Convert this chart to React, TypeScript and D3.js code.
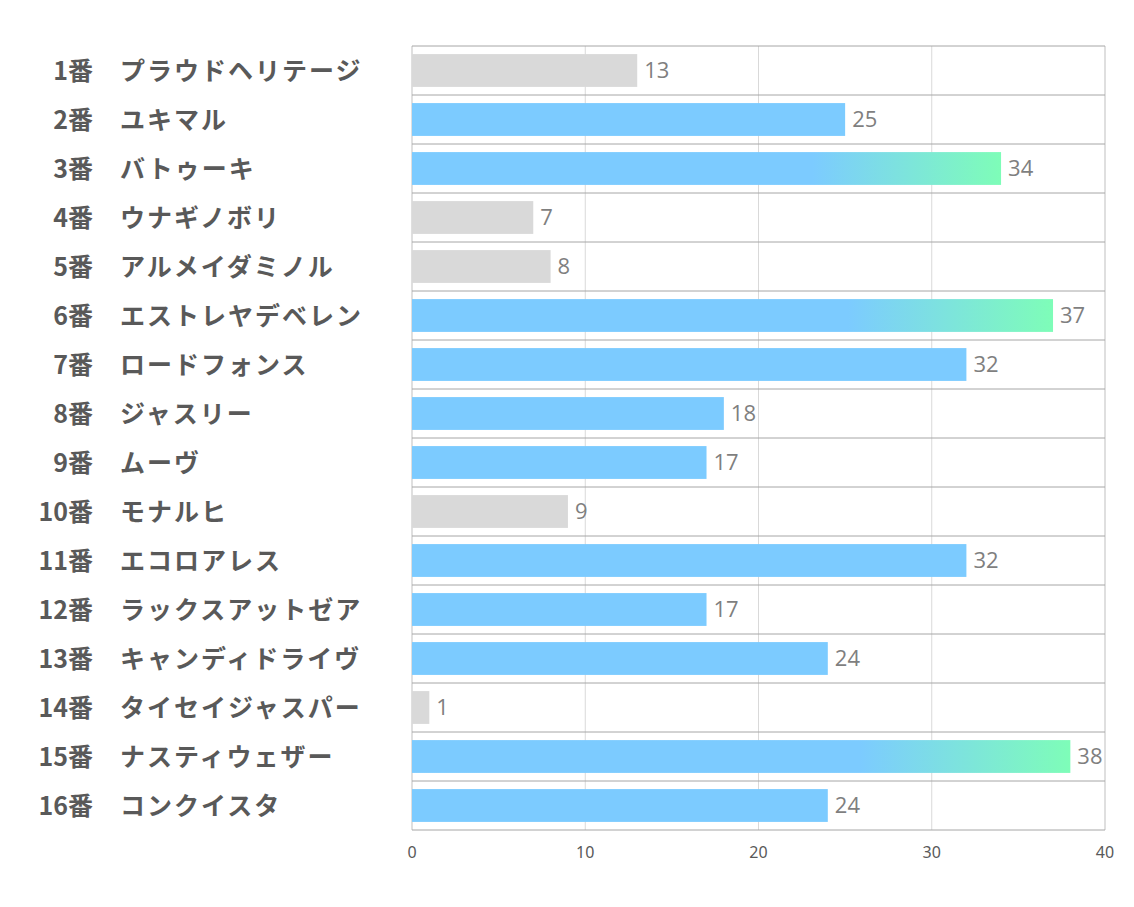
import React from "react";
import * as d3 from "d3";

const nums = ["1番","2番","3番","4番","5番","6番","7番","8番","9番","10番","11番","12番","13番","14番","15番","16番"];
const names = ["プラウドヘリテージ","ユキマル","バトゥーキ","ウナギノボリ","アルメイダミノル","エストレヤデベレン","ロードフォンス","ジャスリー","ムーヴ","モナルヒ","エコロアレス","ラックスアットゼア","キャンディドライヴ","タイセイジャスパー","ナスティウェザー","コンクイスタ"];
const values = [13,25,34,7,8,37,32,18,17,9,32,17,24,1,38,24];
const kind = ["gray","blue","grad","gray","gray","grad","blue","blue","blue","gray","blue","blue","blue","gray","grad","blue"];
const ticks = [0,10,20,30,40];

export default function App() {
  const W = 1134, H = 907;
  const x0 = 412, x1 = 1105, y0 = 46, y1 = 830;
  const x = d3.scaleLinear().domain([0, 40]).range([x0, x1]);
  const y = d3.scaleBand<number>().domain(d3.range(values.length)).range([y0, y1]).paddingInner(0.33).paddingOuter(0.165);
  const step = y.step();
  const fills: Record<string,string> = { gray: "#D9D9D9", blue: "#7CCBFF", grad: "url(#g)" };
  return (
    <svg width={W} height={H} style={{ position: "absolute", left: 0, top: 0 }}>
      <defs>
        <linearGradient id="g" x1="0" x2="1" y1="0" y2="0">
          <stop offset="0" stopColor="#7CCBFF" />
          <stop offset="0.68" stopColor="#7CCBFF" />
          <stop offset="1" stopColor="#7EFDB8" />
        </linearGradient>
      </defs>
      <rect width={W} height={H} fill="#fff" />
      {ticks.map(t => (
        <line key={t} x1={x(t)} x2={x(t)} y1={y0} y2={y1} stroke={t === 0 || t === 40 ? "#BFBFBF" : "#D9D9D9"} strokeWidth={1} />
      ))}
      {d3.range(values.length + 1).map(i => (
        <line key={i} x1={x0} x2={x1} y1={y0 + i * step} y2={y0 + i * step} stroke="#A6A6A6" strokeWidth={1} />
      ))}
      {values.map((v, i) => (
        <g key={i}>
          <rect x={x(0)} y={y(i)!} width={x(v) - x(0)} height={y.bandwidth()} fill={fills[kind[i]]} />
          <text x={x(v) + 7} y={y(i)! + y.bandwidth() / 2} dy="0.36em" fontSize={22} fill="#7F7F7F" fontFamily="'Open Sans', 'Noto Sans', sans-serif">{v}</text>
          <text x={93} y={y(i)! + y.bandwidth() / 2} dy="0.36em" textAnchor="end" fontSize={25} fontWeight="bold" fill="#595959" fontFamily="'Noto Sans CJK JP', sans-serif">{nums[i]}</text>
          <text x={120} y={y(i)! + y.bandwidth() / 2} dy="0.36em" fontSize={25} letterSpacing={2} fontWeight="bold" fill="#595959" fontFamily="'Noto Sans CJK JP', sans-serif">{names[i]}</text>
        </g>
      ))}
      {ticks.map(t => (
        <text key={t} x={x(t)} y={852} dy="0.36em" textAnchor="middle" fontSize={16} fill="#595959" fontFamily="'Liberation Sans Narrow', 'Noto Sans', sans-serif">{t}</text>
      ))}
    </svg>
  );
}
